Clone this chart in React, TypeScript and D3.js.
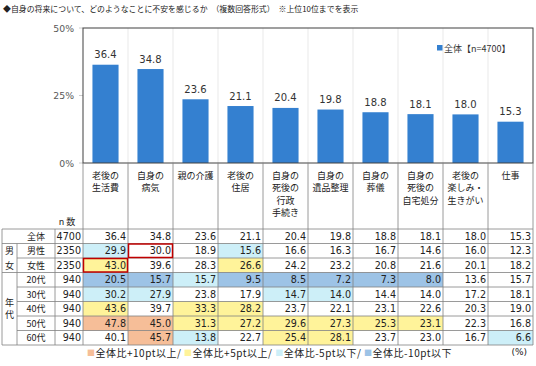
import React from "react";
import * as d3 from "d3";

// 上位10項目
const categories = [
  "老後の\n生活費",
  "自身の\n病気",
  "親の介護",
  "老後の\n住居",
  "自身の\n死後の\n行政\n手続き",
  "自身の\n遺品整理",
  "自身の\n葬儀",
  "自身の\n死後の\n自宅処分",
  "老後の\n楽しみ・\n生きがい",
  "仕事",
];

const overall = [36.4, 34.8, 23.6, 21.1, 20.4, 19.8, 18.8, 18.1, 18.0, 15.3];
const male = [29.9, 30.0, 18.9, 15.6, 16.6, 16.3, 16.7, 14.6, 16.0, 12.3];
const female = [43.0, 39.6, 28.3, 26.6, 24.2, 23.2, 20.8, 21.6, 20.1, 18.2];
const age20 = [20.5, 15.7, 15.7, 9.5, 8.5, 7.2, 7.3, 8.0, 13.6, 15.7];
const age30 = [30.2, 27.9, 23.8, 17.9, 14.7, 14.0, 14.4, 14.0, 17.2, 18.1];
const age40 = [43.6, 39.7, 33.3, 28.2, 23.7, 22.1, 23.1, 22.6, 20.3, 19.0];
const age50 = [47.8, 45.0, 31.3, 27.2, 29.6, 27.3, 25.3, 23.1, 22.3, 16.8];
const age60 = [40.1, 45.7, 13.8, 22.7, 25.4, 28.1, 23.7, 23.0, 16.7, 6.6];

const rowLabels = ["全体", "男性", "女性", "20代", "30代", "40代", "50代", "60代"];
const rowN = [4700, 2350, 2350, 940, 940, 940, 940, 940];
const rowValues = [overall, male, female, age20, age30, age40, age50, age60];

// 赤枠で囲まれたセル [行, 列]
const boxedCells: [string, number][] = [["男性", 1], ["女性", 0]];

const legendItems = ["全体比+10pt以上/ ", "全体比+5pt以上/ ", "全体比-5pt以下/ ", "全体比-10pt以下"];
const yTicks = [0, 25, 50];

const JP = "'Noto Sans CJK JP', sans-serif";
const NUM = "'DejaVu Sans', sans-serif";
const BAR = "#3480D0";
const LINE = "#808080";
const C_PLUS10 = "#F6BE98";
const C_PLUS5 = "#FFF39A";
const C_MINUS5 = "#CDEFF8";
const C_MINUS10 = "#9DC3E6";
const legendColors = [C_PLUS10, C_PLUS5, C_MINUS5, C_MINUS10];

function cellColor(v: number, base: number) {
  const d = Math.round((v - base) * 10) / 10;
  if (d >= 10) return C_PLUS10;
  if (d >= 5) return C_PLUS5;
  if (d <= -10) return C_MINUS10;
  if (d <= -5) return C_MINUS5;
  return "none";
}

const App: React.FC = () => {
  const W = 536, H = 366;
  const plotL = 83, plotR = 533, plotT = 28, plotB = 163;
  const headB = 229, rowH = 14.5;
  const col0 = 2, col1 = 17, col2 = 55;

  const x = d3.scaleBand<number>().domain(d3.range(categories.length)).range([plotL, plotR]);
  const y = d3.scaleLinear().domain([0, 50]).range([plotB, plotT]);
  const ry = d3.scaleBand<string>().domain(rowLabels).range([headB, headB + rowH * rowLabels.length]);
  const bw = x.bandwidth() * 0.58;
  const tableB = headB + rowH * rowLabels.length;
  const groupStart = (r: string) => r === "男性" || r === "20代" || r === "全体";

  return (
    <svg width={W} height={H} style={{ position: "absolute", left: 0, top: 0, background: "#fff" }}>
      {/* タイトル */}
      <text x={3} y={12} fontFamily={JP} fontSize={7.9} fill="#222">
        ◆自身の将来について、どのようなことに不安を感じるか　（複数回答形式）　※上位10位までを表示
      </text>

      {/* グリッド */}
      {d3.range(1, categories.length).map(i => (
        <line key={i} x1={x(i)} x2={x(i)} y1={plotT} y2={plotB} stroke="#e3e3e3" strokeWidth={0.8} />
      ))}
      {yTicks.map(t => (
        <g key={t}>
          <text x={74} y={y(t)} textAnchor="end" dominantBaseline="central" fontFamily={NUM} fontSize={9.3} fill="#595959">
            {t}%
          </text>
          <line x1={79} x2={plotL} y1={y(t)} y2={y(t)} stroke="#bfbfbf" strokeWidth={0.8} />
        </g>
      ))}

      {/* 棒 */}
      {overall.map((v, i) => (
        <g key={i}>
          <rect x={x(i)! + (x.bandwidth() - bw) / 2} y={y(v)} width={bw} height={plotB - y(v)} fill={BAR} />
          <text x={x(i)! + x.bandwidth() / 2} y={y(v) - 10} textAnchor="middle" dominantBaseline="central" fontFamily={NUM} fontSize={10} fill="#333">
            {v.toFixed(1)}
          </text>
        </g>
      ))}
      <rect x={plotL} y={plotT} width={plotR - plotL} height={plotB - plotT} fill="none" stroke="#404040" strokeWidth={1} />

      {/* 凡例（上） */}
      <rect x={437} y={45} width={5.5} height={5.5} fill={BAR} />
      <text x={444} y={48} dominantBaseline="central" fontFamily={JP} fontSize={9} fill="#333">
        全体【n=4700】
      </text>

      {/* 表ヘッダー */}
      {categories.map((c, i) =>
        c.split("\n").map((ln, k) => (
          <text key={`${i}-${k}`} x={x(i)! + x.bandwidth() / 2} y={175 + k * 12.6} textAnchor="middle" dominantBaseline="central" fontFamily={JP} fontSize={9} fill="#222">
            {ln}
          </text>
        ))
      )}
      <text x={(col2 + plotL) / 2 - 2} y={221} textAnchor="middle" dominantBaseline="central" fontFamily={JP} fontSize={9} fill="#222">
        n 数
      </text>

      {/* 背景色 */}
      {rowLabels.map((r, ri) =>
        rowValues[ri].map((v, ci) => {
          const f = ri === 0 ? "none" : cellColor(v, overall[ci]);
          return f === "none" ? null : (
            <rect key={`${ri}-${ci}`} x={x(ci)} y={ry(r)} width={x.bandwidth()} height={ry.bandwidth()} fill={f} />
          );
        })
      )}

      {/* 表の罫線 */}
      {d3.range(0, categories.length + 1).map(i => {
        const xx = i === categories.length ? plotR : x(i)!;
        return <line key={`v${i}`} x1={xx} x2={xx} y1={plotB} y2={tableB} stroke={LINE} strokeWidth={0.8} />;
      })}
      {[col0, col1, col2].map((xx, i) => (
        <line key={`lv${i}`} x1={xx} x2={xx} y1={i === 1 ? ry("男性")! : headB} y2={tableB} stroke={LINE} strokeWidth={0.8} />
      ))}
      {rowLabels.map(r => (
        <line key={`h${r}`} x1={groupStart(r) ? col0 : col1} x2={plotR} y1={ry(r)} y2={ry(r)} stroke={LINE} strokeWidth={0.8} />
      ))}
      <line x1={col0} x2={plotR} y1={tableB} y2={tableB} stroke={LINE} strokeWidth={0.8} />

      {/* 表の文字 */}
      {rowLabels.map((r, ri) => (
        <g key={`t${r}`}>
          <text x={(col1 + col2) / 2} y={ry(r)! + rowH / 2} textAnchor="middle" dominantBaseline="central" fontFamily={JP} fontSize={9} fill="#222">
            {r}
          </text>
          <text x={plotL - 2} y={ry(r)! + rowH / 2} textAnchor="end" dominantBaseline="central" fontFamily={NUM} fontSize={9.6} fill="#222">
            {rowN[ri]}
          </text>
          {rowValues[ri].map((v, ci) => (
            <text key={ci} x={x(ci)! + x.bandwidth() - 2} y={ry(r)! + rowH / 2} textAnchor="end" dominantBaseline="central" fontFamily={NUM} fontSize={9.6} fill="#222">
              {v.toFixed(1)}
            </text>
          ))}
        </g>
      ))}
      {/* グループ見出し */}
      {[["男", "男性"], ["女", "女性"]].map(([t, r]) => (
        <text key={t} x={(col0 + col1) / 2} y={ry(r)! + rowH / 2} textAnchor="middle" dominantBaseline="central" fontFamily={JP} fontSize={9} fill="#222">
          {t}
        </text>
      ))}
      {["年", "代"].map((t, k) => (
        <text key={t} x={(col0 + col1) / 2} y={ry("40代")! + rowH / 2 - 6 + k * 12} textAnchor="middle" dominantBaseline="central" fontFamily={JP} fontSize={9} fill="#222">
          {t}
        </text>
      ))}

      {/* 赤枠 */}
      {boxedCells.map(([r, c]) => (
        <rect key={`${r}${c}`} x={x(c)! + 0.5} y={ry(r)! + 0.5} width={x.bandwidth() - 1} height={ry.bandwidth() - 1} fill="none" stroke="#C00000" strokeWidth={1.5} />
      ))}

      {/* 凡例（下） */}
      <text x={87} y={352} dominantBaseline="central" fontFamily={JP} fontSize={10} letterSpacing={0.5} fill="#222" style={{ whiteSpace: "pre" }}>
        {legendItems.map((t, i) => (
          <React.Fragment key={t}>
            <tspan fill={legendColors[i]} fontSize={8}>■</tspan>
            <tspan>{t}</tspan>
          </React.Fragment>
        ))}
      </text>
      <text x={527} y={352} textAnchor="end" dominantBaseline="central" fontFamily={NUM} fontSize={9} fill="#222">
        (%)
      </text>
    </svg>
  );
};

export default App;
